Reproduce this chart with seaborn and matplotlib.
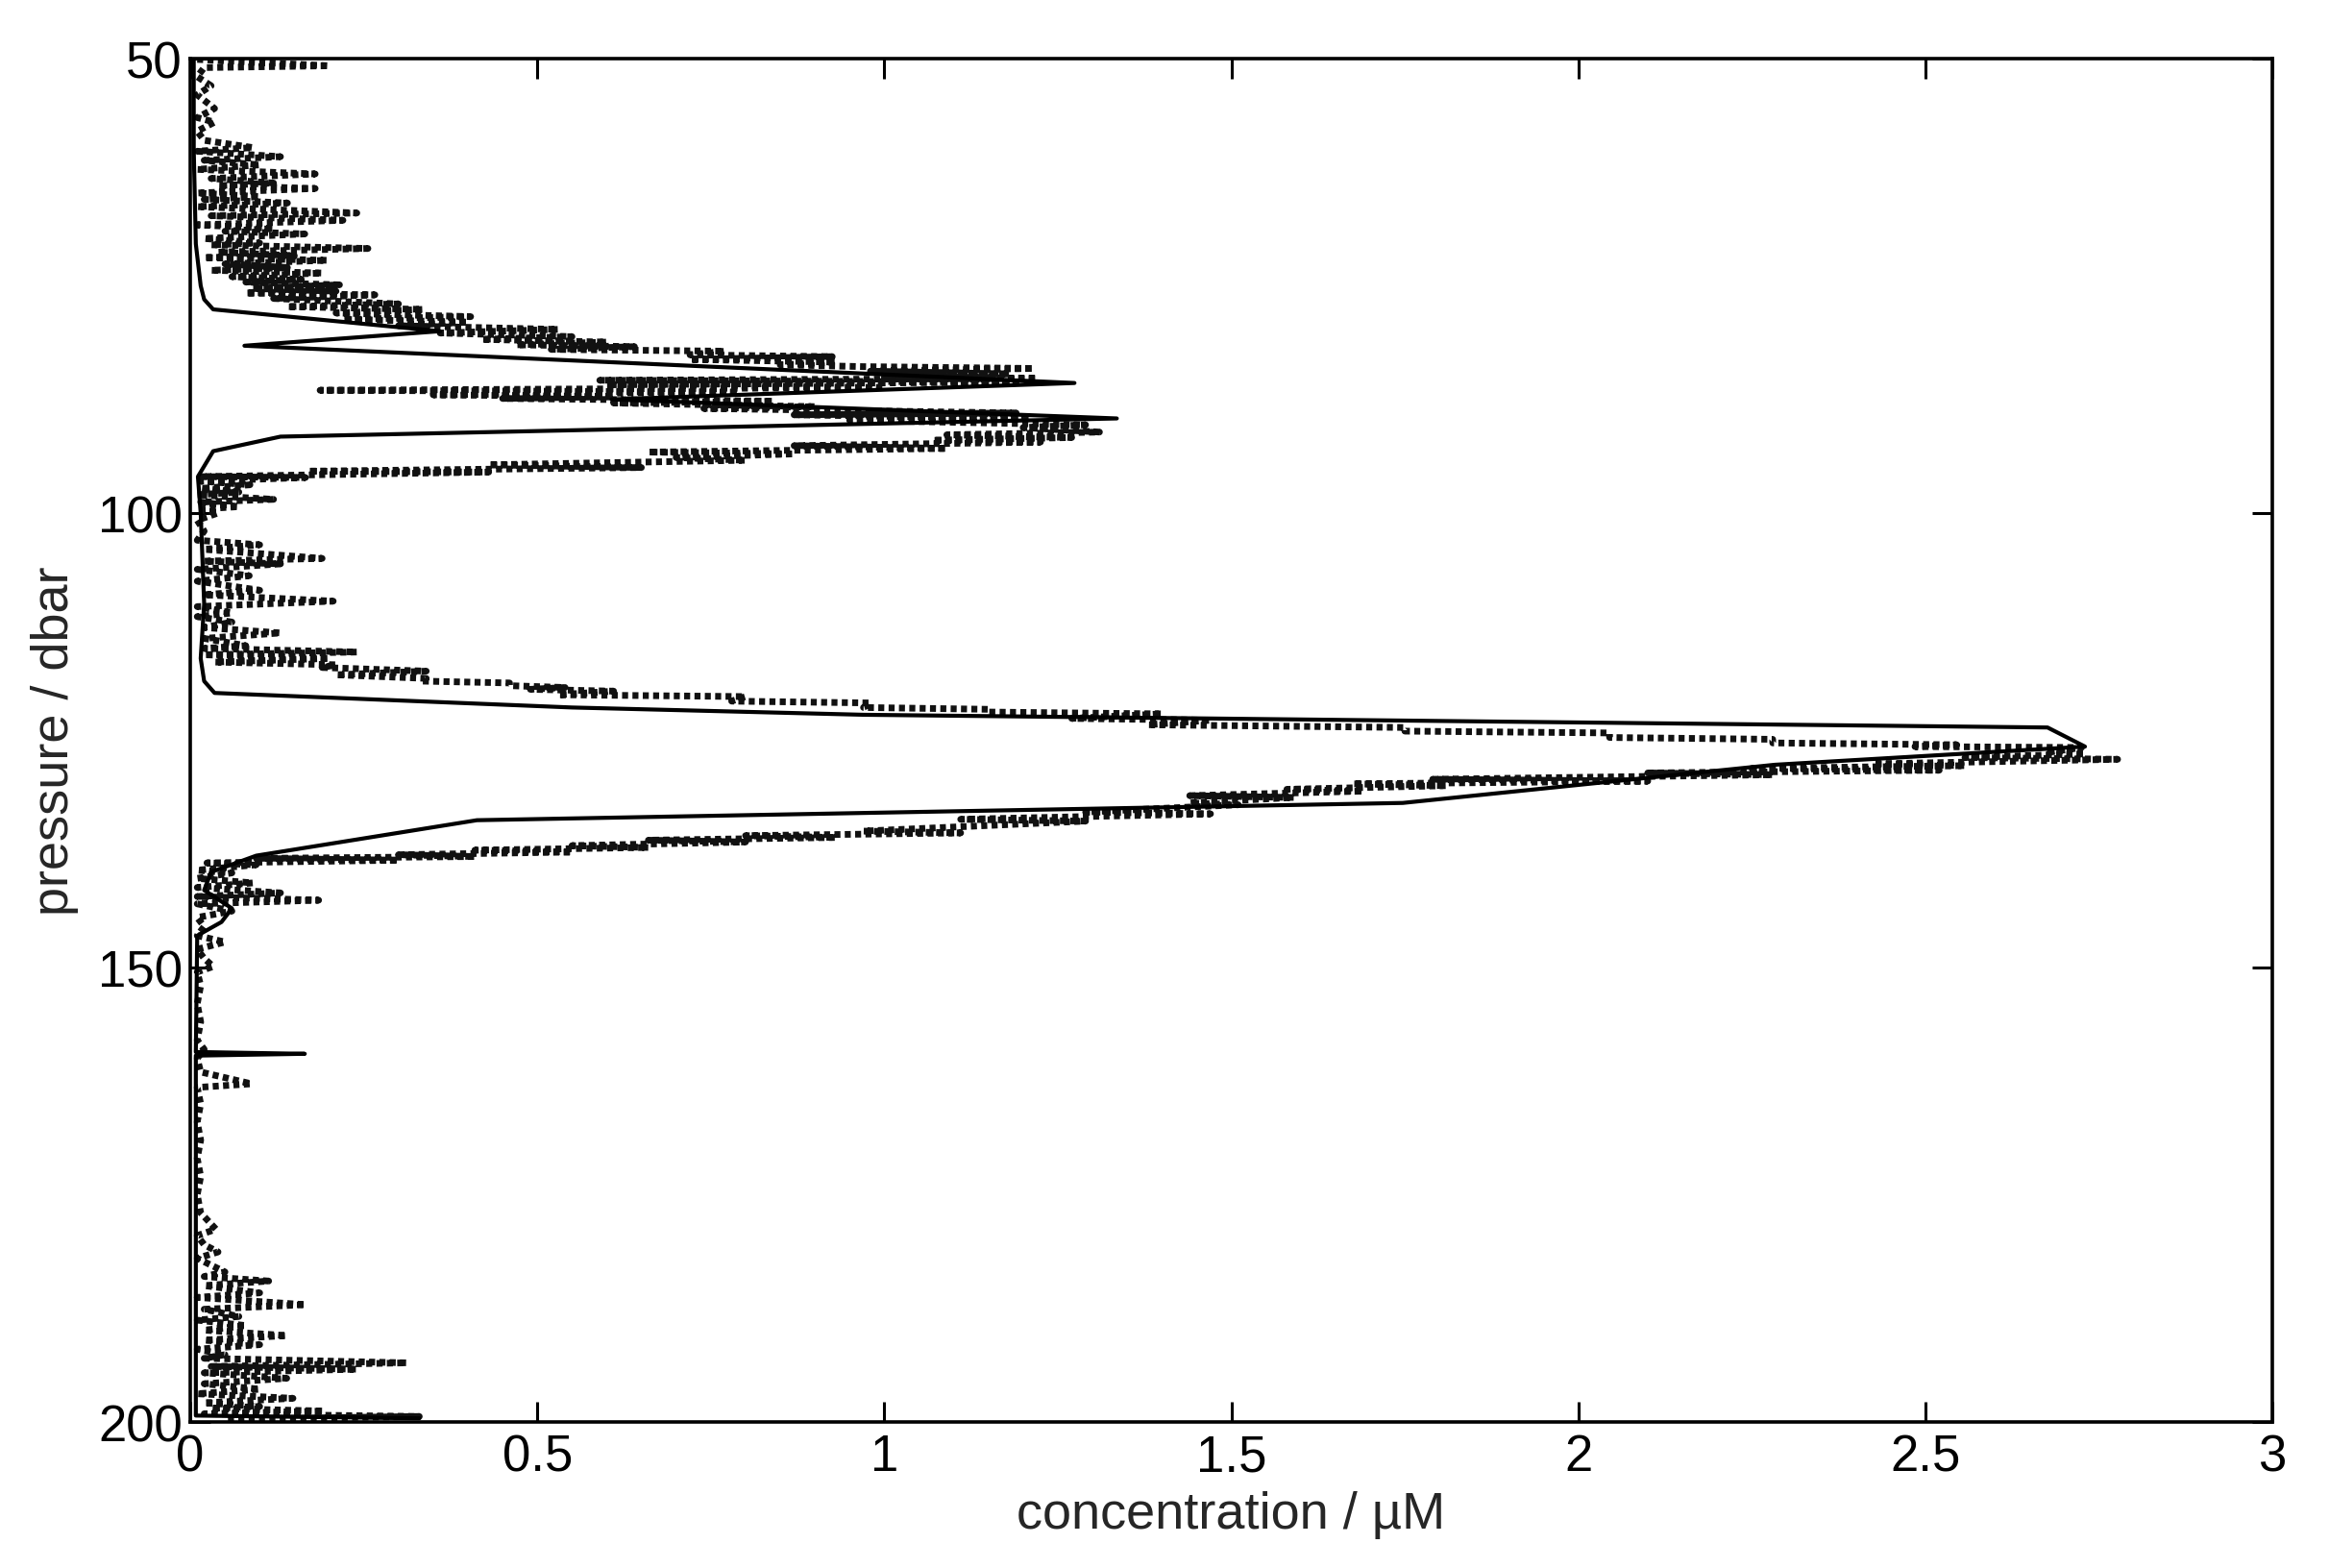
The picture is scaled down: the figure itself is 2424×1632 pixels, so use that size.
import matplotlib
matplotlib.use('Agg')
import matplotlib.pyplot as plt
import seaborn as sns
import pandas as pd

# solid profile: concentration (uM) vs pressure (dbar)
solid_c = [0.005, 0.005, 0.008, 0.015, 0.02, 0.033, 0.36, 0.078, 1.274, 0.607, 1.335,
           0.13, 0.033, 0.011, 0.015, 0.02, 0.015, 0.02, 0.035, 0.55, 0.97, 2.676,
           2.73, 2.283, 1.747, 0.972, 0.413, 0.095, 0.03, 0.02, 0.06, 0.045, 0.01,
           0.008, 0.165, 0.008, 0.008, 0.33]
solid_p = [50.0, 60.0, 70.4, 75.0, 76.5, 77.6, 80.0, 81.6, 85.7, 87.5, 89.6,
           91.6, 93.2, 96.0, 100.0, 110.0, 116.0, 118.5, 119.8, 121.4, 122.2, 123.6,
           125.7, 127.7, 131.9, 133.0, 133.8, 137.7, 139.5, 141.5, 143.5, 145.0, 146.5,
           159.3, 159.5, 159.7, 199.3, 199.6]

# dotted profile (high resolution data), in order of acquisition
dot_c = [0.01, 0.20, 0.02, 0.01, 0.03, 0.01, 0.035, 0.01, 0.035, 0.01, 0.02,
         0.09, 0.01, 0.13, 0.02, 0.10, 0.01, 0.18, 0.03, 0.12, 0.04, 0.18, 0.01, 0.10,
         0.02, 0.14, 0.01, 0.24, 0.03, 0.22, 0.01, 0.12, 0.05, 0.165, 0.02, 0.10, 0.03,
         0.256, 0.04, 0.15, 0.02, 0.197, 0.05, 0.14, 0.03, 0.19, 0.06, 0.16, 0.08,
         0.215, 0.09, 0.21, 0.08, 0.266, 0.12, 0.30, 0.14, 0.335, 0.21, 0.404, 0.22,
         0.40, 0.30, 0.53, 0.36, 0.55, 0.42, 0.60, 0.47, 0.64, 0.52, 0.77, 0.72, 0.925,
         0.72, 0.93, 0.85, 0.97, 1.215, 0.98, 1.18, 1.0, 1.22, 0.59, 1.19, 0.60, 1.0,
         0.187, 0.79, 0.35, 0.61, 0.45, 0.84, 0.61, 0.90, 0.74, 1.19, 0.87, 1.21, 0.95,
         1.29, 1.20, 1.31, 1.09, 1.27, 1.07, 1.225, 0.87, 1.09, 0.66, 0.87, 0.70, 0.80,
         0.43, 0.65, 0.17, 0.43, 0.015, 0.166, 0.015, 0.086, 0.015, 0.07, 0.01, 0.12,
         0.015, 0.07, 0.01, 0.04, 0.01, 0.02, 0.01, 0.10, 0.02, 0.19, 0.02, 0.13, 0.01,
         0.085, 0.01, 0.10, 0.02, 0.206, 0.01, 0.06, 0.01, 0.06, 0.02, 0.13, 0.02, 0.08,
         0.02, 0.24, 0.02, 0.20, 0.035, 0.21, 0.19, 0.34, 0.21, 0.34, 0.335, 0.46, 0.46,
         0.54, 0.49, 0.61, 0.53, 0.80, 0.78, 0.98, 0.97, 1.15, 1.15, 1.40, 1.27, 1.47,
         1.38, 1.75, 1.75, 2.045, 2.045, 2.28, 2.28, 2.545, 2.485, 2.725, 2.68, 2.73,
         2.557, 2.777, 2.425, 2.557, 2.25, 2.52, 2.10, 2.28, 1.79, 2.10, 1.675, 1.81,
         1.58, 1.69, 1.44, 1.59, 1.44, 1.51, 1.29, 1.47, 1.11, 1.29, 0.97, 1.11, 0.80,
         0.93, 0.66, 0.80, 0.55, 0.66, 0.41, 0.55, 0.30, 0.41, 0.095, 0.30, 0.024, 0.095,
         0.01, 0.06, 0.01, 0.09, 0.01, 0.13, 0.01, 0.185, 0.01, 0.06, 0.01, 0.02, 0.01,
         0.05, 0.01, 0.02, 0.033, 0.01, 0.015, 0.01, 0.015, 0.01, 0.02, 0.01, 0.015,
         0.088, 0.01, 0.015, 0.01, 0.015, 0.01, 0.015, 0.01, 0.015, 0.037, 0.01, 0.02,
         0.04, 0.01, 0.05, 0.02, 0.113, 0.02, 0.10, 0.01, 0.166, 0.02, 0.07, 0.01, 0.08,
         0.02, 0.139, 0.02, 0.10, 0.01, 0.05, 0.02, 0.312, 0.03, 0.24, 0.02, 0.139, 0.02,
         0.10, 0.01, 0.148, 0.02, 0.10, 0.03, 0.192, 0.02, 0.33, 0.05]
dot_p = [50.1, 50.8, 51.0, 52.0, 53.0, 54.0, 55.5, 56.5, 57.0, 58.0, 59.0,
         59.8, 60.2, 60.8, 61.2, 61.7, 62.2, 62.7, 63.2, 63.7, 64.0, 64.3, 64.8, 65.2,
         65.5, 65.9, 66.3, 67.0, 67.3, 67.8, 68.3, 68.7, 69.0, 69.3, 69.8, 70.3, 70.5,
         70.9, 71.3, 71.7, 71.9, 72.2, 72.6, 73.0, 73.3, 73.6, 74.0, 74.3, 74.6,
         74.9, 75.3, 75.6, 75.8, 76.0, 76.4, 77.0, 77.3, 77.6, 78.0, 78.4, 78.7,
         79.0, 79.4, 79.8, 80.2, 80.6, 80.9, 81.2, 81.5, 81.7, 82.0, 82.2, 82.6, 82.8,
         83.1, 83.4, 83.7, 83.9, 84.1, 84.4, 84.7, 85.0, 85.2, 85.4, 85.6, 85.9, 86.2,
         86.5, 86.7, 87.0, 87.2, 87.4, 87.7, 87.9, 88.3, 88.5, 89.0, 89.2, 89.6, 89.8,
         90.3, 90.6, 91.1, 91.4, 91.7, 92.0, 92.2, 92.6, 92.9, 93.3, 93.5, 93.9, 94.2,
         94.7, 95.0, 95.4, 95.5, 96.0, 96.1, 96.5, 96.9, 97.3, 97.7, 98.0, 98.5,
         98.8, 99.3, 99.6, 100.0, 100.8, 102.0, 103.0, 103.5, 104.0, 105.0, 105.3, 105.6, 106.2,
         106.9, 107.5, 108.5, 109.0, 109.7, 110.3, 111.0, 111.4, 112.0, 112.6, 113.2, 113.8, 114.6,
         114.9, 115.3, 115.6, 116.0, 116.4, 116.7, 117.0, 117.4, 117.8, 118.2, 118.5, 118.7, 119.0,
         119.2, 119.4, 119.6, 120.0, 120.2, 120.7, 120.9, 121.4, 121.6, 121.9, 122.1, 122.6, 122.8,
         123.3, 123.6, 124.0, 124.2, 124.7, 124.9, 125.3, 125.5, 125.7, 125.8, 126.3, 126.5,
         126.9, 127.1, 127.6, 127.8, 128.1, 128.3, 128.6, 128.8, 129.3, 129.5, 129.8, 130.0,
         130.4, 130.6, 131.1, 131.3, 131.9, 132.1, 132.9, 133.1, 133.7, 133.9, 135.0, 135.2, 135.5,
         135.7, 136.0, 136.2, 136.6, 136.8, 137.1, 137.3, 137.6, 137.8, 138.0, 138.2, 138.5, 138.7,
         139.3, 139.6, 140.2, 140.7, 141.2, 141.8, 142.2, 142.6, 143.0, 143.8, 144.5, 145.5, 146.5,
         147.2, 148.0, 149.0, 149.9, 150.5, 152.0, 154.0, 156.0, 158.0, 159.0, 160.0, 161.5,
         162.8, 163.2, 165.0, 167.0, 169.0, 171.0, 173.0, 175.0, 177.0, 178.8, 179.5, 180.5,
         181.3, 182.0, 183.5, 184.0, 184.5, 185.0, 185.8, 186.3, 187.1, 187.6, 188.4, 188.8, 189.4,
         189.9, 190.5, 191.0, 191.5, 192.0, 192.6, 193.0, 193.5, 193.9, 194.2, 194.6, 195.2, 195.8,
         196.4, 196.9, 197.4, 197.9, 198.3, 198.5, 198.8, 199.1, 199.4, 199.7]

x_ticks = [0, 0.5, 1, 1.5, 2, 2.5, 3]
x_labels = ['0', '0.5', '1', '1.5', '2', '2.5', '3']
y_ticks = [50, 100, 150, 200]

sns.set_style('ticks')
plt.rcParams['font.family'] = ['Liberation Sans', 'DejaVu Sans']

solid = pd.DataFrame({'conc': solid_c, 'pres': solid_p})
dots = pd.DataFrame({'conc': dot_c, 'pres': dot_p})

fig = plt.figure(figsize=(24.24, 16.33), dpi=100)
ax = fig.add_axes([0.0817, 0.0931, 0.8940, 0.8690])

sns.lineplot(data=dots, x='conc', y='pres', sort=False, estimator=None, ax=ax,
             color='#111111', linewidth=5.0, linestyle=(0, (0.9, 0.65)),
             dash_capstyle='butt')
sns.lineplot(data=solid, x='conc', y='pres', sort=False, estimator=None, ax=ax,
             color='black', linewidth=3.0)

ax.set_xlim(0, 3)
ax.set_ylim(200, 50)
ax.set_xticks(x_ticks)
ax.set_xticklabels(x_labels)
ax.set_yticks(y_ticks)

for s in ax.spines.values():
    s.set_visible(True)
    s.set_linewidth(2.6)
    s.set_color('black')

ax.tick_params(direction='in', length=15, width=2.2, top=True, right=True,
               labelsize=38, colors='black')
ax.tick_params(axis='x', pad=8)
ax.tick_params(axis='y', pad=6)

ax.set_xlabel('concentration / µM', fontsize=39, labelpad=7)
ax.set_ylabel('pressure / dbar', fontsize=39, labelpad=14)

fig.savefig('out.png', dpi=100)
